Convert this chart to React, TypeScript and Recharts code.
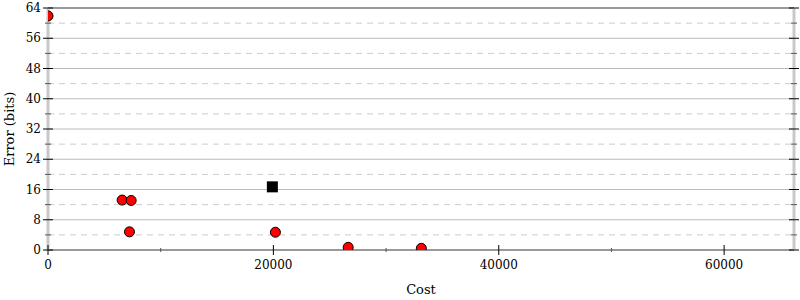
import { ScatterChart, Scatter, XAxis, YAxis, ReferenceLine, Label } from "recharts";

// candidates (red circles) and the chosen one (black square)
const costs = [0, 6580, 7380, 7230, 20180, 26640, 33130];
const errors = [61.9, 13.2, 13.1, 4.8, 4.7, 0.7, 0.45];
const bestCost = [19910];
const bestError = [16.7];

const xTicks = [0, 10000, 20000, 30000, 40000, 50000, 60000];
const yTicks = [0, 4, 8, 12, 16, 20, 24, 28, 32, 36, 40, 44, 48, 52, 56, 60, 64];
const solidGrid = [8, 16, 24, 32, 40, 48, 56];
const dashedGrid = [4, 12, 20, 28, 36, 44, 52, 60];

const points = costs.map((c, i) => ({ cost: c, error: errors[i] }));
const best = bestCost.map((c, i) => ({ cost: c, error: bestError[i] }));

const font = "DejaVu Serif, serif";

const YTick = (props: any) => {
  const { x, y, payload, showLabel } = props;
  const major = payload.value % 8 === 0;
  const len = major ? 5 : 3;
  return (
    <g>
      <line x1={x - len} x2={x + len} y1={y} y2={y} stroke={major ? "#000" : "#555"} strokeWidth={1} />
      {showLabel && major && (
        <text x={x - 7} y={y} dy={4} textAnchor="end" fontSize={12} fontFamily={font} fill="#000">
          {payload.value}
        </text>
      )}
    </g>
  );
};

const XTick = (props: any) => {
  const { x, y, payload } = props;
  const major = payload.value % 20000 === 0;
  const len = major ? 5 : 2;
  return (
    <g>
      <line x1={x} x2={x} y1={y - len} y2={y + len} stroke={major ? "#000" : "#555"} strokeWidth={1} />
      {major && (
        <text x={x} y={y} dy={19} textAnchor="middle" fontSize={12} fontFamily={font} fill="#000">
          {payload.value}
        </text>
      )}
    </g>
  );
};

const Dot = (p: any) => <circle cx={p.cx} cy={p.cy} r={5} fill="#ff0000" stroke="#000" strokeWidth={1} />;
const Square = (p: any) => <rect x={p.cx - 5.5} y={p.cy - 5.5} width={11} height={11} fill="#000" />;

export default function App() {
  return (
    <div>
      <style>{"body{margin:0}"}</style>
      <ScatterChart width={800} height={300} margin={{ top: 0, right: 3, bottom: 0, left: 0 }}>
        {solidGrid.map((v) => (
          <ReferenceLine key={"s" + v} y={v} xAxisId="b" yAxisId="l" stroke="#bbb" strokeWidth={1} />
        ))}
        {dashedGrid.map((v) => (
          <ReferenceLine key={"d" + v} y={v} xAxisId="b" yAxisId="l" stroke="#ccc" strokeWidth={1} strokeDasharray="6 5" />
        ))}
        <XAxis
          xAxisId="b"
          type="number"
          dataKey="cost"
          domain={[0, 66200]}
          allowDataOverflow
          ticks={xTicks}
          interval={0}
          height={50}
          tickSize={0}
          tickMargin={0}
          tickLine={false}
          tick={<XTick />}
          axisLine={{ stroke: "#999", strokeWidth: 2 }}
        >
          <Label value="Cost" position="insideBottom" offset={6} style={{ fontSize: 13, fontFamily: font, fill: "#000" }} />
        </XAxis>
        <XAxis
          xAxisId="t"
          orientation="top"
          type="number"
          dataKey="cost"
          domain={[0, 66200]}
          allowDataOverflow
          height={8}
          tick={false}
          tickLine={false}
          axisLine={{ stroke: "#999", strokeWidth: 2 }}
        />
        <YAxis
          yAxisId="l"
          type="number"
          dataKey="error"
          domain={[0, 64]}
          allowDataOverflow
          ticks={yTicks}
          interval={0}
          width={48}
          tickSize={0}
          tickMargin={0}
          tickLine={false}
          tick={<YTick showLabel />}
          axisLine={{ stroke: "#c8c8c8", strokeWidth: 3 }}
        >
          <Label
            content={(lp: any) => {
              const vb = lp.viewBox || { x: 0, y: 8, height: 242 };
              const cy = vb.y + vb.height / 2;
              return (
                <text x={14} y={cy} transform={`rotate(-90 14 ${cy})`} textAnchor="middle" fontSize={13} fontFamily={font} fill="#000">
                  Error (bits)
                </text>
              );
            }}
          />
        </YAxis>
        <YAxis
          yAxisId="r"
          orientation="right"
          type="number"
          dataKey="error"
          domain={[0, 64]}
          allowDataOverflow
          ticks={yTicks}
          interval={0}
          width={3}
          tickSize={0}
          tickMargin={0}
          tickLine={false}
          tick={<YTick />}
          axisLine={{ stroke: "#c8c8c8", strokeWidth: 3 }}
        />
        <Scatter data={points} xAxisId="b" yAxisId="l" shape={Dot} isAnimationActive={false} />
        <Scatter data={best} xAxisId="b" yAxisId="l" shape={Square} isAnimationActive={false} />
      </ScatterChart>
    </div>
  );
}
